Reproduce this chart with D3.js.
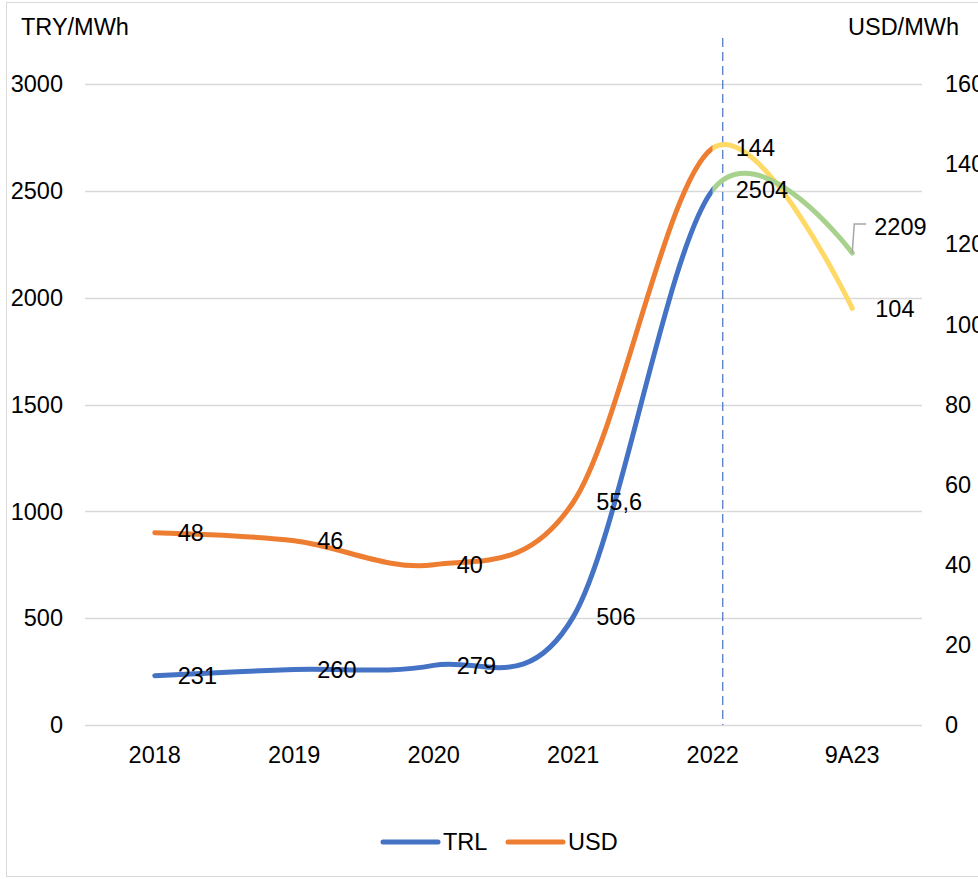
<!DOCTYPE html>
<meta charset="UTF-8">
<style>
body { margin: 0; background: #fff; }
svg text { font-family: "Liberation Sans", Arial, sans-serif; font-size: 23.5px; fill: #000; }
</style>
<body>
<script src="https://cdn.jsdelivr.net/npm/d3@7"></script>
<script>
// chart data
var categories = ["2018", "2019", "2020", "2021", "2022", "9A23"];
var trlValues = [231, 260, 279, 506, 2504, 2209];
var usdValues = [48, 46, 40, 55.6, 144, 104];
var trlLabels = ["231", "260", "279", "506", "2504", "2209"];
var usdLabels = ["48", "46", "40", "55,6", "144", "104"];
var leftTicks = [0, 500, 1000, 1500, 2000, 2500, 3000];
var rightTicks = [0, 20, 40, 60, 80, 100, 120, 140, 160];

var width = 978, height = 879;
var plot = {left: 85, right: 922, top: 84, bottom: 725};

var svg = d3.select("body").append("svg")
    .attr("width", width)
    .attr("height", height);

// outer frame
svg.append("rect")
    .attr("x", 6.5).attr("y", 2.5)
    .attr("width", width).attr("height", 874)
    .attr("fill", "none").attr("stroke", "#d9d9d9");

var x = d3.scalePoint().domain(categories).range([plot.left, plot.right]).padding(0.5);
var yL = d3.scaleLinear().domain([0, 3000]).range([plot.bottom, plot.top]);
var yR = d3.scaleLinear().domain([0, 160]).range([plot.bottom, plot.top]);

// gridlines
svg.append("g").selectAll("line")
  .data(leftTicks).enter().append("line")
    .attr("x1", plot.left).attr("x2", plot.right)
    .attr("y1", function(d) { return Math.round(yL(d)) + 0.5; })
    .attr("y2", function(d) { return Math.round(yL(d)) + 0.5; })
    .attr("stroke", "#d9d9d9").attr("stroke-width", 1.3);

// left axis labels
svg.append("g").selectAll("text")
  .data(leftTicks).enter().append("text")
    .attr("x", 63).attr("y", function(d) { return yL(d); })
    .attr("dy", "0.35em").attr("text-anchor", "end")
    .text(function(d) { return d; });

// right axis labels
svg.append("g").selectAll("text")
  .data(rightTicks).enter().append("text")
    .attr("x", 945).attr("y", function(d) { return yR(d); })
    .attr("dy", "0.35em")
    .text(function(d) { return d; });

// category labels
svg.append("g").selectAll("text")
  .data(categories).enter().append("text")
    .attr("x", function(d) { return x(d); }).attr("y", 755)
    .attr("dy", "0.35em").attr("text-anchor", "middle")
    .text(function(d) { return d; });

// axis titles
svg.append("text").attr("x", 21).attr("y", 35).text("TRY/MWh");
svg.append("text").attr("x", 848).attr("y", 35).text("USD/MWh");

// dashed marker line just right of 2022
var xMark = x("2022") + 10;
svg.append("line")
    .attr("x1", xMark).attr("x2", xMark)
    .attr("y1", 38).attr("y2", plot.bottom)
    .attr("stroke", "#4472C4").attr("stroke-width", 1.2)
    .attr("stroke-dasharray", "9,5");

// clips: before and after 2022
var defs = svg.append("defs");
var xSplit = x("2022");
defs.append("clipPath").attr("id", "clipA")
  .append("rect").attr("x", 0).attr("y", 0).attr("width", xSplit).attr("height", height);
defs.append("clipPath").attr("id", "clipB")
  .append("rect").attr("x", xSplit).attr("y", 0).attr("width", width - xSplit).attr("height", height);

function drawSeries(values, yScale, colA, colB) {
  var line = d3.line()
      .x(function(d, i) { return x(categories[i]); })
      .y(function(d) { return yScale(d); })
      .curve(d3.curveCardinal.tension(0));
  svg.append("path").datum(values)
      .attr("d", line).attr("fill", "none")
      .attr("stroke", colA).attr("stroke-width", 5)
      .attr("stroke-linecap", "round").attr("stroke-linejoin", "round")
      .attr("clip-path", "url(#clipA)");
  svg.append("path").datum(values)
      .attr("d", line).attr("fill", "none")
      .attr("stroke", colB).attr("stroke-width", 5)
      .attr("stroke-linecap", "round").attr("stroke-linejoin", "round")
      .attr("clip-path", "url(#clipB)");
}

drawSeries(usdValues, yR, "#ED7D31", "#FFD966");
drawSeries(trlValues, yL, "#4472C4", "#A9D18E");

// data labels
function drawLabels(values, labels, yScale) {
  svg.append("g").selectAll("text")
    .data(values).enter().append("text")
      .attr("x", function(d, i) { return x(categories[i]) + 23; })
      .attr("y", function(d) { return yScale(d); })
      .attr("dy", "0.35em")
      .text(function(d, i) { return labels[i]; });
}
drawLabels(usdValues, usdLabels, yR);
drawLabels(trlValues.slice(0, 5), trlLabels, yL);

// last TRL label moved up with leader line
var lastX = x(categories[5]), lastY = yL(trlValues[5]);
svg.append("path")
    .attr("d", "M" + lastX + "," + lastY + "L" + (lastX + 2) + "," + (lastY - 29) + "H" + (lastX + 14))
    .attr("fill", "none").attr("stroke", "#a6a6a6").attr("stroke-width", 1.5);
svg.append("text")
    .attr("x", lastX + 22).attr("y", lastY - 26).attr("dy", "0.35em")
    .text(trlLabels[5]);

// legend
var legend = [["TRL", "#4472C4", 383], ["USD", "#ED7D31", 508]];
legend.forEach(function(l) {
  svg.append("line")
      .attr("x1", l[2]).attr("x2", l[2] + 55)
      .attr("y1", 842).attr("y2", 842)
      .attr("stroke", l[1]).attr("stroke-width", 5).attr("stroke-linecap", "round");
  svg.append("text").attr("x", l[2] + 60).attr("y", 842).attr("dy", "0.35em").text(l[0]);
});
</script>
</body>
